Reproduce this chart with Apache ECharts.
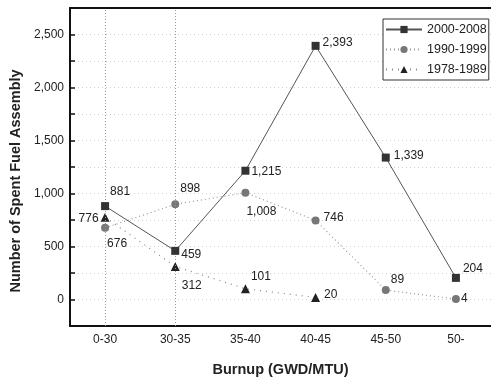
<!DOCTYPE html>
<html>
<head>
<meta charset="utf-8">
<script src="https://cdn.jsdelivr.net/npm/echarts@6/dist/echarts.min.js"></script>
<style>
  html, body { margin: 0; padding: 0; background: #fff; }
  #chart { width: 491px; height: 382px; }
</style>
</head>
<body>
<div id="chart"></div>
<script>
// Datos
const categories = ['0-30', '30-35', '35-40', '40-45', '45-50', '50-'];
const series2000 = [881, 459, 1215, 2393, 1339, 204];
const series1990 = [676, 898, 1008, 746, 89, 4];
const series1978 = [776, 312, 101, 20, null, null];
const seriesNames = ['2000-2008', '1990-1999', '1978-1989'];

// Posición de etiquetas (estilo, separado de los datos)
const labelPos2000 = [['right', [-1, -14]], ['right', [0, 4]], ['right', [0, 1]], ['right', [1, -3]], ['right', [2, -2]], ['right', [1, -9]]];
const labelPos1990 = [['right', [-4, 16]], ['right', [-1, -16]], ['right', [-5, 19]], ['right', [2, -3]], ['right', [-1, -10]], ['right', [-1, 0]]];
const labelPos1978 = [['left', [0, 1]], ['right', [0, 19]], ['right', [-1, -12]], ['right', [2, -3]], ['right', [0, 0]], ['right', [0, 0]]];

const font = '"Liberation Sans", Arial, sans-serif';
const fmt = v => v.toLocaleString('en-US');

function buildData(values, positions) {
    return values.map((v, i) => ({
        value: v,
        label: { position: positions[i][0], offset: positions[i][1] }
    }));
}

const chart = echarts.init(document.getElementById('chart'));

const baseLabel = {
    show: true,
    distance: 2,
    fontFamily: font,
    fontSize: 12,
    color: '#222',
    formatter: p => fmt(p.value)
};

chart.setOption({
    animation: false,
    textStyle: { fontFamily: font },
    grid: { left: 70, top: 8, width: 425, height: 326 },
    legend: {
        orient: 'vertical',
        left: 383,
        top: 19,
        padding: [4, 2, 4, 2],
        itemGap: 7,
        itemWidth: 36,
        itemHeight: 9,
        backgroundColor: '#fff',
        borderColor: '#333',
        borderWidth: 1,
        borderRadius: 0,
        textStyle: { fontFamily: font, fontSize: 12.5, color: '#222' },
        data: seriesNames
    },
    xAxis: [
        {
            type: 'category',
            data: categories,
            boundaryGap: true,
            name: 'Burnup (GWD/MTU)',
            nameLocation: 'middle',
            nameGap: 36,
            nameTextStyle: { fontFamily: font, fontSize: 14.5, fontWeight: 'bold', color: '#222' },
            axisLine: { onZero: false, lineStyle: { color: '#111', width: 2 } },
            axisTick: { alignWithLabel: true, inside: true, length: 6, lineStyle: { color: '#111', width: 1.5 } },
            axisLabel: { fontFamily: font, fontSize: 12, color: '#222', margin: 8 },
            splitLine: { show: false }
        },
        {
            type: 'category',
            data: categories,
            boundaryGap: true,
            position: 'bottom',
            axisLine: { show: false, onZero: false },
            axisTick: { inside: true, length: 4, lineStyle: { color: '#111', width: 1.5 } },
            axisLabel: { show: false },
            splitLine: { show: false }
        },
        {
            type: 'category',
            data: categories,
            position: 'top',
            axisLine: { onZero: false, lineStyle: { color: '#111', width: 2 } },
            axisTick: { show: false },
            axisLabel: { show: false },
            splitLine: { show: false }
        }
    ],
    yAxis: {
        type: 'value',
        min: -250,
        max: 2750,
        interval: 250,
        name: 'Number of Spent Fuel Assembly',
        nameLocation: 'middle',
        nameGap: 45,
        nameTextStyle: { fontFamily: font, fontSize: 14.5, fontWeight: 'bold', color: '#222', padding: [0, 28, 0, 0] },
        axisLine: { show: true, lineStyle: { color: '#111', width: 2 } },
        axisTick: { show: true, inside: true, length: 5, lineStyle: { color: '#111', width: 1.5 } },
        axisLabel: {
            fontFamily: font, fontSize: 12, color: '#222', margin: 6,
            formatter: v => (v % 500 === 0 ? fmt(v) : '')
        },
        splitLine: { show: true, lineStyle: { color: '#cfcfcf', type: [1, 3], width: 1 } }
    },
    series: [
        {
            name: seriesNames[0],
            type: 'line',
            data: buildData(series2000, labelPos2000),
            symbol: 'rect',
            symbolSize: 8,
            itemStyle: { color: '#333' },
            lineStyle: { color: '#555', width: 1, type: 'solid' },
            label: baseLabel,
            z: 5,
            markLine: {
                silent: true,
                symbol: 'none',
                label: { show: false },
                lineStyle: { color: '#999', type: [1, 2], width: 1 },
                data: [{ xAxis: categories[0] }, { xAxis: categories[1] }]
            }
        },
        {
            name: seriesNames[1],
            type: 'line',
            data: buildData(series1990, labelPos1990),
            symbol: 'circle',
            symbolSize: 8,
            itemStyle: { color: '#777' },
            lineStyle: { color: '#999', width: 1.2, type: [1, 3] },
            label: baseLabel,
            z: 4
        },
        {
            name: seriesNames[2],
            type: 'line',
            data: buildData(series1978, labelPos1978),
            symbol: 'triangle',
            symbolSize: 9,
            itemStyle: { color: '#222' },
            lineStyle: { color: '#888', width: 1.2, type: [1, 5] },
            label: baseLabel,
            z: 4
        }
    ]
});

window.addEventListener('resize', function() {
    chart.resize();
});
</script>
</body>
</html>
